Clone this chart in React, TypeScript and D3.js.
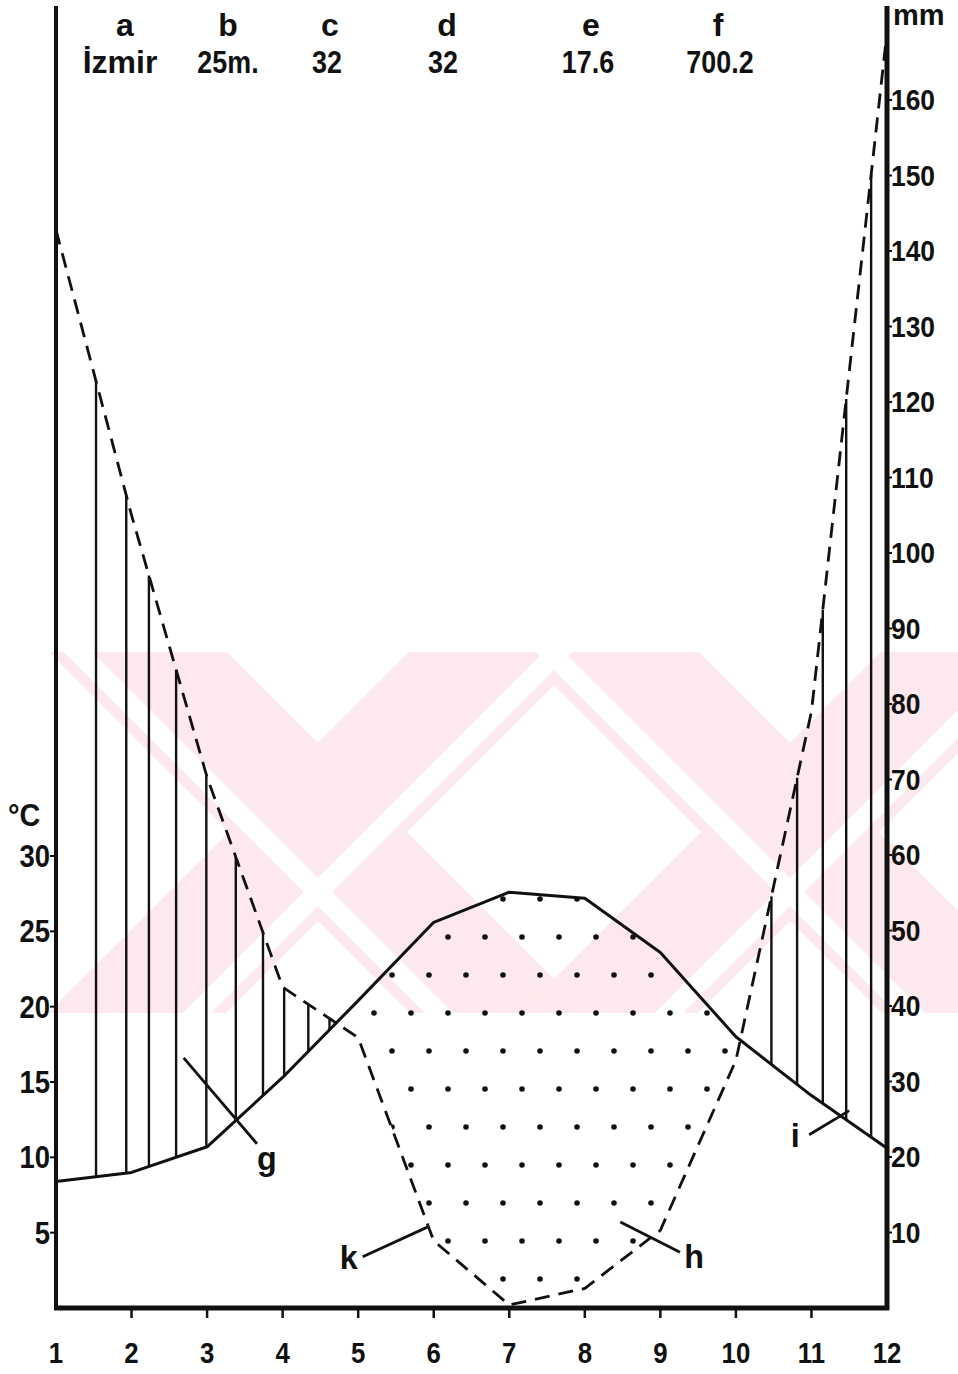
import React from "react";
import * as d3 from "d3";

// Walter-Lieth climate diagram, İzmir

const months = [1, 2, 3, 4, 5, 6, 7, 8, 9, 10, 11, 12];
const monthLabels = ["1", "2", "3", "4", "5", "6", "7", "8", "9", "10", "11", "12"];
// mean monthly temperature (°C)
const temperature = [8.4, 9.0, 10.7, 15.3, 20.4, 25.6, 27.6, 27.2, 23.6, 18.0, 14.1, 10.6];
// monthly precipitation (mm)
const precipitation = [142.8, 105, 70.3, 42.5, 35.8, 8.9, 0.4, 2.6, 10.3, 32.8, 79, 169];
const tempTicks = [5, 10, 15, 20, 25, 30];
const precTicks = [10, 20, 30, 40, 50, 60, 70, 80, 90, 100, 110, 120, 130, 140, 150, 160];
const headerKeys = ["a", "b", "c", "d", "e", "f"];
const headerValues = ["İzmir", "25m.", "32", "32", "17.6", "700.2"];
// hatch lines of the humid period (month positions)
const hatchMonths = [1.53, 1.93, 2.23, 2.59, 2.99, 3.38, 3.74, 4.02, 4.34, 4.62, 10.47, 10.81, 11.15, 11.46, 11.79];
// pointer labels: [label, fromMonth, fromTemp, toMonth, toTemp]
const pointers: [string, number, number, number, number][] = [
  ["g", 2.69, 16.6, 3.66, 10.9],
  ["k", 5.06, 3.4, 5.93, 5.4],
  ["h", 8.47, 5.7, 9.26, 3.7],
  ["i", 10.97, 11.5, 11.5, 13.1],
];

const W = 958, H = 1374;
const font = "'Liberation Sans', Arial, sans-serif";

// narrow lettering-stencil look: squeeze text horizontally
function Label(props: { x: number; y: number; anchor?: string; size?: number; sx?: number; children: React.ReactNode }) {
  const { x, y, anchor = "start", size = 31, sx = 0.86 } = props;
  return (
    <text transform={`translate(${x},${y}) scale(${sx},1)`} textAnchor={anchor} fontSize={size}>
      {props.children}
    </text>
  );
}

export default function App() {
  const x = d3.scaleLinear().domain([1, 12]).range([56, 887]);
  const yT = d3.scaleLinear().domain([0, 30]).range([1308, 856]);
  const yP = d3.scaleLinear().domain([0, 160]).range([1308, 100]);

  // piecewise-linear interpolation between monthly values
  const tempAt = d3.scaleLinear().domain(months).range(temperature);
  const precAt = d3.scaleLinear().domain(months).range(precipitation);

  const tempLine = d3.line<number>().x((d, i) => x(months[i])).y((d) => yT(d))(temperature);
  const precLine = d3.line<number>().x((d, i) => x(months[i])).y((d) => yP(d))(precipitation);

  // dry period: temperature curve above precipitation curve
  const samples = d3.range(1, 12.0001, 0.01);
  const dryArea = d3.area<number>()
    .x((t) => x(t))
    .y0((t) => yP(precAt(t)))
    .y1((t) => Math.min(yT(tempAt(t)), yP(precAt(t))))(samples);

  const headerX = [125, 228, 330, 447, 591, 718];
  const valueX = [120, 228, 327, 443, 588, 720];

  return (
    <svg width={W} height={H} style={{ position: "absolute", left: 0, top: 0, background: "#fff" }}
      fontFamily={font}>
      <defs>
        <pattern id="dots" patternUnits="userSpaceOnUse" width={74} height={76} x={438} y={927}>
          <circle cx={10} cy={10} r={2.8} fill="#111" />
          <circle cx={47} cy={10} r={2.8} fill="#111" />
          <circle cx={28} cy={48} r={2.8} fill="#111" />
          <circle cx={65} cy={48} r={2.8} fill="#111" />
        </pattern>
        <clipPath id="band">
          <rect x={0} y={652} width={W} height={361} />
        </clipPath>
      </defs>

      {/* watermark */}
      <g clipPath="url(#band)">
        <g stroke="#fde8ed" strokeWidth={126} fill="none">
          <line x1={318 - 400} y1={832 - 400} x2={318 + 400} y2={832 + 400} />
          <line x1={318 - 400} y1={832 + 400} x2={318 + 400} y2={832 - 400} />
          <line x1={790 - 400} y1={832 - 400} x2={790 + 400} y2={832 + 400} />
          <line x1={790 - 400} y1={832 + 400} x2={790 + 400} y2={832 - 400} />
        </g>
        <g stroke="#fff" strokeWidth={20} fill="none">
          <line x1={318 - 400 - 30} y1={832 - 400 + 30} x2={318 + 400 - 30} y2={832 + 400 + 30} />
          <line x1={318 - 400 + 30} y1={832 + 400 + 30} x2={318 + 400 + 30} y2={832 - 400 + 30} />
          <line x1={790 - 400 - 30} y1={832 - 400 + 30} x2={790 + 400 - 30} y2={832 + 400 + 30} />
          <line x1={790 - 400 + 30} y1={832 + 400 + 30} x2={790 + 400 + 30} y2={832 - 400 + 30} />
        </g>
      </g>

      {/* dotted dry period */}
      <path d={dryArea ?? ""} fill="url(#dots)" stroke="none" />

      {/* hatched humid period */}
      <g stroke="#111" strokeWidth={2.4}>
        {hatchMonths.map((m, i) => (
          <line key={i} x1={x(m)} x2={x(m)} y1={yT(tempAt(m))} y2={yP(precAt(m))} />
        ))}
      </g>

      {/* curves */}
      <path d={tempLine ?? ""} fill="none" stroke="#111" strokeWidth={3} strokeLinejoin="round" />
      <path d={precLine ?? ""} fill="none" stroke="#111" strokeWidth={2.8} strokeDasharray="15 9" />

      {/* axes */}
      <g stroke="#111" fill="none">
        <line x1={x(1)} x2={x(1)} y1={6} y2={1310} strokeWidth={4} />
        <line x1={x(12)} x2={x(12)} y1={6} y2={1310} strokeWidth={5} />
        <line x1={x(1) - 2} x2={x(12) + 2} y1={1308} y2={1308} strokeWidth={5} />
        {months.slice(1, 11).map((m) => (
          <line key={m} x1={x(m)} x2={x(m)} y1={1308} y2={1318} strokeWidth={2.5} />
        ))}
        {tempTicks.map((t) => (
          <line key={t} x1={x(1) - 6} x2={x(1)} y1={yT(t)} y2={yT(t)} strokeWidth={2} />
        ))}
        {precTicks.map((p) => (
          <line key={p} x1={x(12)} x2={x(12) + 5} y1={yP(p)} y2={yP(p)} strokeWidth={2} />
        ))}
      </g>

      {/* tick labels */}
      <g fill="#111" fontWeight="bold">
        {tempTicks.map((t) => (
          <Label key={t} x={50} y={yT(t) + 11} anchor="end" size={32}>{t}</Label>
        ))}
        {precTicks.map((p) => (
          <Label key={p} x={891} y={yP(p) + 10} size={30} sx={0.88}>{p}</Label>
        ))}
        {monthLabels.map((l, i) => (
          <Label key={l} x={x(months[i])} y={1363} anchor="middle" size={30}>{l}</Label>
        ))}
        <Label x={8} y={826} size={32} sx={0.9}>°C</Label>
        <Label x={893} y={25} size={29} sx={1}>mm</Label>
      </g>

      {/* header */}
      <g fill="#111" fontWeight="bold">
        {headerKeys.map((k, i) => (
          <Label key={k} x={headerX[i]} y={36} anchor="middle" size={32} sx={1}>{k}</Label>
        ))}
        {headerValues.map((v, i) => (
          <Label key={i} x={valueX[i]} y={73} anchor="middle" size={32} sx={i === 0 ? 1 : 0.84}>{v}</Label>
        ))}
      </g>

      {/* pointer labels */}
      <g stroke="#111" strokeWidth={2.8}>
        {pointers.map(([l, m0, t0, m1, t1]) => (
          <line key={l} x1={x(m0)} y1={yT(t0)} x2={x(m1)} y2={yT(t1)} />
        ))}
      </g>
      <g fill="#111" fontWeight="bold">
        {pointers.map(([l, m0, t0, m1, t1]) => {
          const lx = l === "g" ? x(m1) + 10 : l === "h" ? x(m1) + 14 : x(m0) - 14;
          const ly = l === "g" ? yT(t1) + 26 : l === "h" ? yT(t1) + 16 : yT(t0) + 12;
          return <Label key={l} x={lx} y={ly} anchor="middle" size={34} sx={0.95}>{l}</Label>;
        })}
      </g>
    </svg>
  );
}
